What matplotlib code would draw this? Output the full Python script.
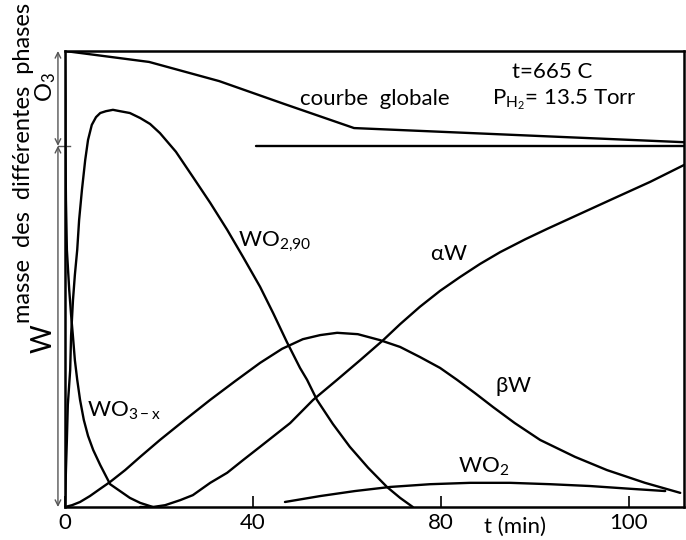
import numpy as np
import matplotlib.pyplot as plt
from matplotlib.transforms import blended_transform_factory

plt.rcParams['font.family'] = ['Lato', 'DejaVu Sans']
plt.rcParams['mathtext.fontset'] = 'custom'
plt.rcParams['mathtext.rm'] = 'Lato'
plt.rcParams['mathtext.it'] = 'Lato'

# time (min) and mass (% of initial WO3)
t_glob = [0, 17.9, 32.8, 46.6, 61.5, 131.7]
m_glob = [100, 97.6, 93.4, 88.4, 83.1, 80.0]

t_ref = [40.6, 131.7]
m_ref = [79.2, 79.2]

t_wo290 = [0, 0.2, 0.4, 0.6, 1.1, 1.3, 1.7, 2.1, 2.6, 3.0, 3.6, 4.3, 4.9, 5.7, 6.6,
           7.5, 8.7, 10.2, 11.7, 13.8, 16.0, 18.1, 20.2, 23.6, 27.2, 30.9, 34.5,
           37.9, 41.5, 44.3, 47.2, 50.0, 51.5, 53.6, 57.0, 60.6, 64.5, 68.5, 71.3, 74.0]
m_wo290 = [0, 8.1, 14.7, 22.4, 30.0, 37.7, 45.4, 50.9, 56.4, 62.9, 69.5, 76.1, 80.5,
           83.8, 85.5, 86.4, 86.8, 87.1, 86.8, 86.4, 85.3, 84.0, 82.0, 77.9, 72.4,
           66.7, 60.8, 54.8, 48.3, 42.5, 36.2, 30.5, 27.9, 23.5, 18.2, 13.2, 8.6,
           4.4, 2.0, 0]

t_wo3x = [0, 0.1, 0.1, 0.2, 0.4, 0.9, 1.3, 1.7, 2.1, 2.6, 3.2, 4.0, 4.9, 6.0, 7.5,
          9.6, 11.7, 13.8, 16.0, 18.7]
m_wo3x = [100, 89.3, 78.3, 67.3, 56.4, 47.6, 42.1, 37.3, 32.2, 27.9, 23.5, 19.1,
          15.6, 12.5, 9.2, 5.0, 3.5, 2.0, 0.9, 0]

t_beta = [0, 1.5, 3.2, 5.3, 7.5, 9.6, 12.8, 16.0, 20.2, 25.5, 30.9, 36.2, 41.5,
          46.2, 50.6, 54.3, 57.9, 62.3, 67.0, 71.3, 75.5, 79.8, 83.4, 87.2, 91.1,
          95.7, 101.1, 108.5, 115.3, 123.4, 130.9]
m_beta = [0, 0.4, 1.1, 2.4, 4.0, 5.5, 8.1, 11.0, 14.7, 19.1, 23.5, 27.6, 31.6,
          34.7, 36.8, 37.7, 38.2, 37.9, 36.6, 35.1, 32.9, 30.5, 27.9, 25.0, 21.9,
          18.4, 14.7, 11.0, 8.1, 5.3, 3.1]

t_alpha = [16.0, 18.7, 21.3, 24.5, 27.2, 30.9, 34.5, 37.9, 41.5, 44.7, 47.9, 52.8,
           57.9, 62.8, 67.7, 71.3, 75.5, 79.8, 84.0, 88.3, 92.6, 97.9, 102.6,
           109.6, 116.6, 124.5, 131.7]
m_alpha = [0, 0, 0.4, 1.5, 2.6, 5.3, 7.5, 10.3, 13.2, 15.8, 18.4, 23.5, 27.9, 32.2,
           36.6, 40.1, 43.9, 47.4, 50.4, 53.3, 55.9, 58.7, 61.0, 64.3, 67.6, 71.3, 75.0]

t_wo2 = [46.8, 54.3, 61.7, 69.2, 77.7, 86.2, 94.7, 103.2, 111.7, 120.2, 127.7]
m_wo2 = [1.1, 2.4, 3.5, 4.4, 5.0, 5.3, 5.3, 5.0, 4.6, 4.0, 3.5]

tick_pos = [0, 40, 80, 120]
tick_lab = ['0', '40', '80', '100']

fig = plt.figure(figsize=(6.86, 5.4), dpi=100)
ax = fig.add_axes([65 / 686, 33 / 540, 619 / 686, 456 / 540])
lw = 1.7
for t, m in [(t_glob, m_glob), (t_ref, m_ref), (t_wo290, m_wo290), (t_wo3x, m_wo3x),
             (t_beta, m_beta), (t_alpha, m_alpha), (t_wo2, m_wo2)]:
    ax.plot(t, m, color='black', lw=lw, solid_capstyle='round', solid_joinstyle='round')

ax.set_xlim(0, 131.7)
ax.set_ylim(0, 100)
for s in ax.spines.values():
    s.set_linewidth(1.8)
ax.set_yticks([])
ax.set_xticks(tick_pos)
ax.set_xticklabels(tick_lab, fontsize=16)
ax.tick_params(axis='x', direction='in', length=8, width=1.2, pad=4)

# labels on the curves
fs = 16
ax.text(50.0, 88.2, 'courbe  globale', fontsize=fs)
ax.text(95.1, 94.1, 't=665 C', fontsize=fs)
ax.text(90.9, 88.2, r'P$_{\mathrm{H_2}}$= 13.5 Torr', fontsize=fs)
ax.text(36.8, 57.0, r'WO$_{2{,}90}$', fontsize=fs)
ax.text(77.7, 54.2, r'$\alpha$W', fontsize=fs)
ax.text(91.5, 25.2, r'$\beta$W', fontsize=fs)
ax.text(83.6, 7.5, r'WO$_2$', fontsize=fs)
ax.text(4.7, 19.7, r'WO$_{3-\mathrm{x}}$', fontsize=fs)

tb = blended_transform_factory(ax.transData, ax.transAxes)
ax.text(95.7, -0.022, 't (min)', fontsize=fs, ha='center', va='top', transform=tb)

# left-hand scale: O3 part and W part
ax.annotate('', xy=(-1.5, 100), xytext=(-1.5, 79.2),
            arrowprops=dict(arrowstyle='<->', color='#555555', lw=1, shrinkA=0, shrinkB=0),
            annotation_clip=False)
ax.annotate('', xy=(-1.5, 0), xytext=(-1.5, 79.2),
            arrowprops=dict(arrowstyle='<->', color='#555555', lw=1, shrinkA=0, shrinkB=0),
            annotation_clip=False)
ax.plot([-1.5, 1.1], [79.2, 79.2], color='#555555', lw=1, clip_on=False)

fig.text(24 / 686, 1 - 163 / 540, 'masse  des  différentes  phases', rotation=90,
         fontsize=17, ha='center', va='center')
fig.text(46 / 686, 1 - 87 / 540, r'O$_3$', rotation=90, fontsize=17,
         ha='center', va='center')
fig.text(44 / 686, 1 - 339 / 540, 'W', rotation=90, fontsize=20,
         ha='center', va='center')

fig.savefig('out.png', dpi=100)
